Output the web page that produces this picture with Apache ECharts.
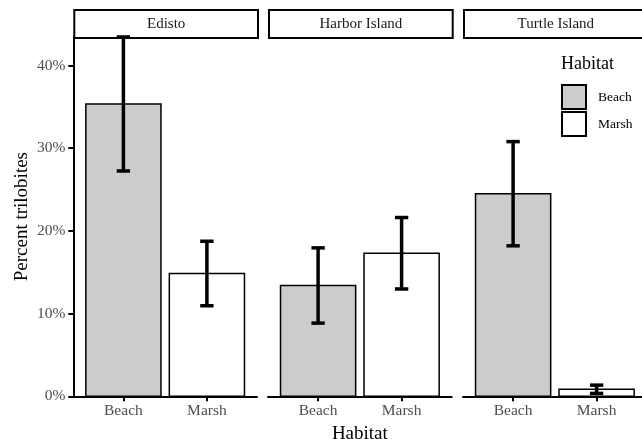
<!DOCTYPE html>
<html>
<head>
<meta charset="utf-8">
<script src="https://cdn.jsdelivr.net/npm/echarts@6/dist/echarts.min.js"></script>
<style>
html,body{margin:0;padding:0;background:#fff;}
#chart{width:642px;height:439px;}
</style>
</head>
<body>
<div id="chart"></div>
<script>
// ---- data ----
const sites = ['Edisto', 'Harbor Island', 'Turtle Island'];
const habitats = ['Beach', 'Marsh'];
const beachMean = [35.35, 13.4, 24.5];
const beachErr = [8.1, 4.55, 6.3];
const marshMean = [14.85, 17.3, 0.85];
const marshErr = [3.9, 4.32, 0.5];
const yTicks = [0, 10, 20, 30, 40];

// ---- layout / style ----
const FONT = "'Liberation Serif', 'DejaVu Serif', serif";
const fills = { Beach: '#cccccc', Marsh: '#ffffff' };
const panelLeft = [73.3, 268, 463];
const panelW = 183.7;
const panelTop = 37;
const panelH = 359.3;
const yMax = Math.max(
  ...beachMean.map((m, i) => m + beachErr[i]),
  ...marshMean.map((m, i) => m + marshErr[i])
);

const chart = echarts.init(document.getElementById('chart'), null, { renderer: 'canvas' });

function renderBarErr(params, api) {
  const x = api.value(0), m = api.value(1), e = api.value(2);
  const tl = api.coord([x - 0.45, m]);
  const br = api.coord([x + 0.45, 0]);
  const top = api.coord([x, m + e]);
  const bot = api.coord([x, Math.max(0, m - e)]);
  const capL = api.coord([x - 0.08, 0])[0];
  const capR = api.coord([x + 0.08, 0])[0];
  const errStyle = { stroke: '#000', lineWidth: 3.5, lineCap: 'butt' };
  return {
    type: 'group',
    children: [
      { type: 'rect', shape: { x: tl[0], y: tl[1], width: br[0] - tl[0], height: br[1] - tl[1] },
        style: { fill: api.visual('color'), stroke: '#000', lineWidth: 1.5 } },
      { type: 'line', shape: { x1: top[0], y1: top[1], x2: bot[0], y2: bot[1] }, style: errStyle },
      { type: 'line', shape: { x1: capL, y1: top[1], x2: capR, y2: top[1] }, style: errStyle },
      { type: 'line', shape: { x1: capL, y1: bot[1], x2: capR, y2: bot[1] }, style: errStyle }
    ]
  };
}

const grids = [], xAxes = [], yAxes = [], series = [], graphics = [];
sites.forEach((site, i) => {
  grids.push({ left: panelLeft[i], top: panelTop, width: panelW, height: panelH,
    containLabel: false, outerBoundsMode: 'none' });
  xAxes.push({
    type: 'value', gridIndex: i, min: 0.4, max: 2.6,
    splitLine: { show: false },
    axisLine: { show: true, onZero: false, lineStyle: { color: '#000', width: 2 } },
    axisTick: { show: true, customValues: [1, 2], length: 5, lineStyle: { color: '#000', width: 2 } },
    axisLabel: { show: true, customValues: [1, 2], margin: 7,
      formatter: v => habitats[Math.round(v) - 1] || '',
      fontFamily: FONT, fontSize: 15.5, color: '#4d4d4d' },
    name: i === 1 ? 'Habitat' : '',
    nameLocation: 'middle', nameGap: 27,
    nameTextStyle: { fontFamily: FONT, fontSize: 19, color: '#000' }
  });
  yAxes.push({
    type: 'value', gridIndex: i, min: 0, max: yMax,
    show: i === 0,
    splitLine: { show: false },
    axisLine: { show: true, lineStyle: { color: '#000', width: 2 } },
    axisTick: { show: true, customValues: yTicks, length: 5, lineStyle: { color: '#000', width: 2 } },
    axisLabel: { show: true, customValues: yTicks, margin: 8,
      formatter: v => v + '%', fontFamily: FONT, fontSize: 15.5, color: '#4d4d4d' },
    name: i === 0 ? 'Percent trilobites' : '',
    nameLocation: 'middle', nameGap: 42,
    nameTextStyle: { fontFamily: FONT, fontSize: 19, color: '#000' }
  });
  series.push({
    name: 'Beach', type: 'custom', xAxisIndex: i, yAxisIndex: i,
    itemStyle: { color: fills.Beach },
    renderItem: renderBarErr,
    data: [[1, beachMean[i], beachErr[i]]]
  });
  series.push({
    name: 'Marsh', type: 'custom', xAxisIndex: i, yAxisIndex: i,
    itemStyle: { color: fills.Marsh },
    renderItem: renderBarErr,
    data: [[2, marshMean[i], marshErr[i]]]
  });
  graphics.push({
    type: 'group', left: panelLeft[i], top: 9,
    children: [
      { type: 'rect', shape: { x: 0, y: 0, width: panelW, height: 28 },
        style: { fill: '#fff', stroke: '#000', lineWidth: 2 } },
      { type: 'text', x: panelW / 2, y: 14,
        style: { text: site, fill: '#1a1a1a', font: '15px ' + FONT, align: 'center', verticalAlign: 'middle' } }
    ]
  });
});

const option = {
  backgroundColor: '#fff',
  animation: false,
  title: {
    text: 'Habitat', left: 561, top: 55, padding: 0,
    textStyle: { fontFamily: FONT, fontSize: 18, fontWeight: 'normal', color: '#000' }
  },
  legend: {
    orient: 'vertical', left: 561, top: 84, padding: 0,
    itemWidth: 24, itemHeight: 24, itemGap: 1,
    icon: 'rect', selectedMode: false,
    textStyle: { fontFamily: FONT, fontSize: 13.5, color: '#000', padding: [0, 0, 0, 7] },
    data: habitats.map(h => ({ name: h, itemStyle: { color: fills[h], borderColor: '#000', borderWidth: 2 } }))
  },
  grid: grids,
  xAxis: xAxes,
  yAxis: yAxes,
  series: series,
  graphic: graphics
};
chart.setOption(option);
</script>
</body>
</html>
